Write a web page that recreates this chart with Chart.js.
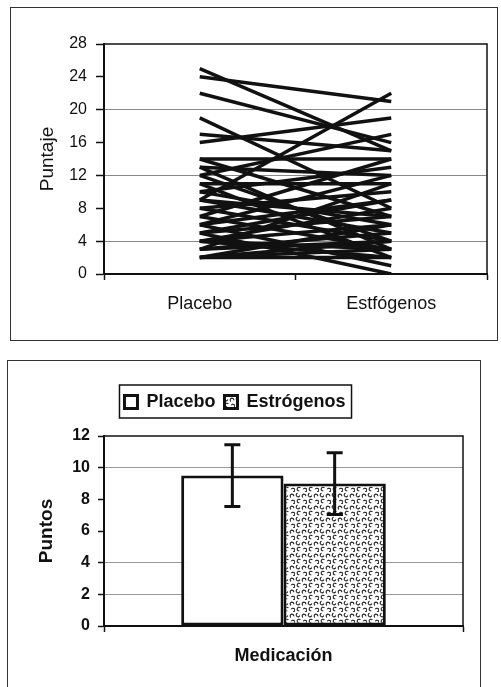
<!DOCTYPE html>
<html>
<head>
<meta charset="utf-8">
<script src="https://cdn.jsdelivr.net/npm/chart.js@4.4.0/dist/chart.umd.min.js"></script>
<style>
  body { margin: 0; background: #fff; width: 501px; height: 687px; overflow: hidden; position: relative; }
  .frame { position: absolute; border: 1px solid #333; box-sizing: border-box; }
  #f1 { left: 10px; top: 7px; width: 488px; height: 334px; }
  #f2 { left: 7px; top: 360px; width: 474px; height: 340px; }
  canvas { position: absolute; }
  #c1 { left: 10px; top: 7px; }
  #c2 { left: 7px; top: 360px; }
</style>
</head>
<body>
<div class="frame" id="f1"></div>
<div class="frame" id="f2"></div>
<canvas id="c1" width="487" height="333"></canvas>
<canvas id="c2" width="473" height="327"></canvas>
<script>
const FONT = "'Liberation Sans', Arial, sans-serif";

// top chart: paired scores per subject
const pairLabels = ['Placebo', 'Estfógenos'];
const placebo    = [25, 24, 22, 19, 17, 16, 14, 14, 13, 13, 12, 12, 11, 11, 10, 10, 9, 9, 9, 8, 8, 7, 7, 6, 6, 6, 5, 5, 5, 4, 4, 4, 4, 3, 3, 3, 2, 2, 2, 2];
const estrogenos = [15, 21, 16, 8, 15, 19, 14, 7, 3, 12, 4, 17, 11, 2, 6, 13, 22, 5, 7, 10, 4, 14, 3, 12, 1, 9, 9, 0, 7, 3, 8, 2, 6, 5, 4, 11, 3, 6, 4, 2];
const topTicks = [0, 4, 8, 12, 16, 20, 24, 28];
const topGrid = [4, 12, 20];

// bottom chart: means with error bars
const barGroups = ['Medicación'];
const barSeries = ['Placebo', 'Estrógenos'];
const barMeans = [9.5, 9.0];
const barErrors = [1.95, 1.95];
const bottomGrid = [2, 4, 10];

const plotFrame = {
  id: 'plotFrame',
  afterDraw(chart) {
    const a = chart.chartArea, ctx = chart.ctx;
    ctx.save();
    ctx.strokeStyle = '#111';
    ctx.lineWidth = 1.5;
    ctx.strokeRect(a.left, a.top, a.right - a.left, a.bottom - a.top);
    ctx.restore();
  }
};

new Chart(document.getElementById('c1'), {
  type: 'line',
  data: {
    labels: pairLabels,
    datasets: placebo.map((p, i) => ({
      data: [p, estrogenos[i]],
      borderColor: '#111',
      borderWidth: 3.5,
      pointRadius: 0,
      tension: 0
    }))
  },
  options: {
    responsive: false,
    animation: false,
    layout: { padding: { top: 37, right: 10, left: 0, bottom: 0 } },
    plugins: { legend: { display: false }, tooltip: { enabled: false } },
    scales: {
      x: {
        offset: true,
        grid: { offset: true, drawOnChartArea: false, tickLength: 6, tickColor: '#111', tickWidth: 1.5 },
        border: { color: '#111', width: 2 },
        ticks: { color: '#111', font: { family: FONT, size: 18 }, padding: 13 },
        afterFit: s => { s.height = 66; }
      },
      y: {
        min: 0, max: 28,
        afterBuildTicks: s => { s.ticks = topTicks.map(v => ({ value: v })); },
        grid: {
          color: c => topGrid.includes(c.tick.value) ? '#888' : 'rgba(0,0,0,0)',
          lineWidth: 1,
          tickColor: '#111', tickLength: 8, tickWidth: 1.5
        },
        border: { color: '#111', width: 2 },
        ticks: { color: '#111', font: { family: FONT, size: 16 }, padding: 9 },
        title: { display: true, text: 'Puntaje', color: '#111', font: { family: FONT, size: 19 }, padding: { top: 26, bottom: 0 } },
        afterFit: s => { s.width = 94; }
      }
    }
  },
  plugins: [plotFrame]
});

// stipple fill for the second bar
function stipple() {
  const t = document.createElement('canvas');
  t.width = 12; t.height = 12;
  const g = t.getContext('2d');
  g.fillStyle = '#fff';
  g.fillRect(0, 0, 12, 12);
  g.strokeStyle = '#222';
  g.lineWidth = 1.1;
  [[3, 3, 0.3], [9, 4, 2.2], [4, 9, 1.4], [10, 10, 3.6]].forEach(([x, y, r]) => {
    g.beginPath();
    g.arc(x, y, 1.8, r, r + 4.2);
    g.stroke();
  });
  return g.createPattern(t, 'repeat');
}
const pat = stipple();

const errorBars = {
  id: 'errorBars',
  afterDatasetsDraw(chart) {
    const ctx = chart.ctx, y = chart.scales.y;
    ctx.save();
    ctx.strokeStyle = '#111';
    ctx.lineWidth = 3;
    chart.data.datasets.forEach((ds, i) => {
      const bar = chart.getDatasetMeta(i).data[0];
      const hi = y.getPixelForValue(barMeans[i] + barErrors[i]);
      const lo = y.getPixelForValue(barMeans[i] - barErrors[i]);
      const x = bar.x, w = 8;
      ctx.beginPath();
      ctx.moveTo(x, hi); ctx.lineTo(x, lo);
      ctx.moveTo(x - w, hi); ctx.lineTo(x + w, hi);
      ctx.moveTo(x - w, lo); ctx.lineTo(x + w, lo);
      ctx.stroke();
    });
    ctx.restore();
  }
};

// legend: bordered box, and more room below it
const legendBox = {
  id: 'legendBox',
  afterInit(chart) {
    const lg = chart.legend;
    const fit = lg.fit;
    lg.fit = function () { fit.call(this); this.height += 15; };
  },
  afterDraw(chart) {
    const hb = chart.legend.legendHitBoxes;
    if (!hb || !hb.length) return;
    const last = hb[hb.length - 1];
    const l = hb[0].left - 5, r = last.left + last.width + 6;
    const t = hb[0].top - 8, b = hb[0].top + hb[0].height + 7;
    const ctx = chart.ctx;
    ctx.save();
    ctx.strokeStyle = '#111';
    ctx.lineWidth = 1.5;
    ctx.strokeRect(l, t, r - l, b - t);
    ctx.restore();
  }
};

new Chart(document.getElementById('c2'), {
  type: 'bar',
  data: {
    labels: barGroups,
    datasets: barSeries.map((name, i) => ({
      label: name,
      data: [barMeans[i]],
      backgroundColor: i === 0 ? '#fff' : pat,
      borderColor: '#111',
      borderWidth: 3,
      borderSkipped: false,
      barPercentage: 1,
      categoryPercentage: 0.57
    }))
  },
  options: {
    responsive: false,
    animation: false,
    layout: { padding: { top: 24, right: 17, left: 0, bottom: 0 } },
    plugins: {
      tooltip: { enabled: false },
      legend: {
        position: 'top',
        labels: {
          color: '#111', boxWidth: 13, boxHeight: 13, padding: 9,
          font: { family: FONT, size: 18, weight: 'bold' }
        }
      }
    },
    scales: {
      x: {
        grid: { offset: true, drawOnChartArea: false, tickLength: 6, tickColor: '#111', tickWidth: 1.5 },
        border: { color: '#111', width: 2 },
        ticks: { color: '#111', font: { family: FONT, size: 18, weight: 'bold' }, padding: 13 },
        afterFit: s => { s.height = 61; }
      },
      y: {
        min: 0, max: 12,
        ticks: { stepSize: 2, color: '#111', font: { family: FONT, size: 16, weight: 'bold' }, padding: 8 },
        grid: {
          color: c => bottomGrid.includes(c.tick.value) ? '#999' : 'rgba(0,0,0,0)',
          lineWidth: 1,
          tickColor: '#111', tickLength: 6, tickWidth: 1.5
        },
        border: { color: '#111', width: 2 },
        title: { display: true, text: 'Puntos', color: '#111', font: { family: FONT, size: 19, weight: 'bold' }, padding: { top: 28, bottom: 0 } },
        afterFit: s => { s.width = 97; }
      }
    }
  },
  plugins: [plotFrame, errorBars, legendBox]
});
</script>
</body>
</html>
